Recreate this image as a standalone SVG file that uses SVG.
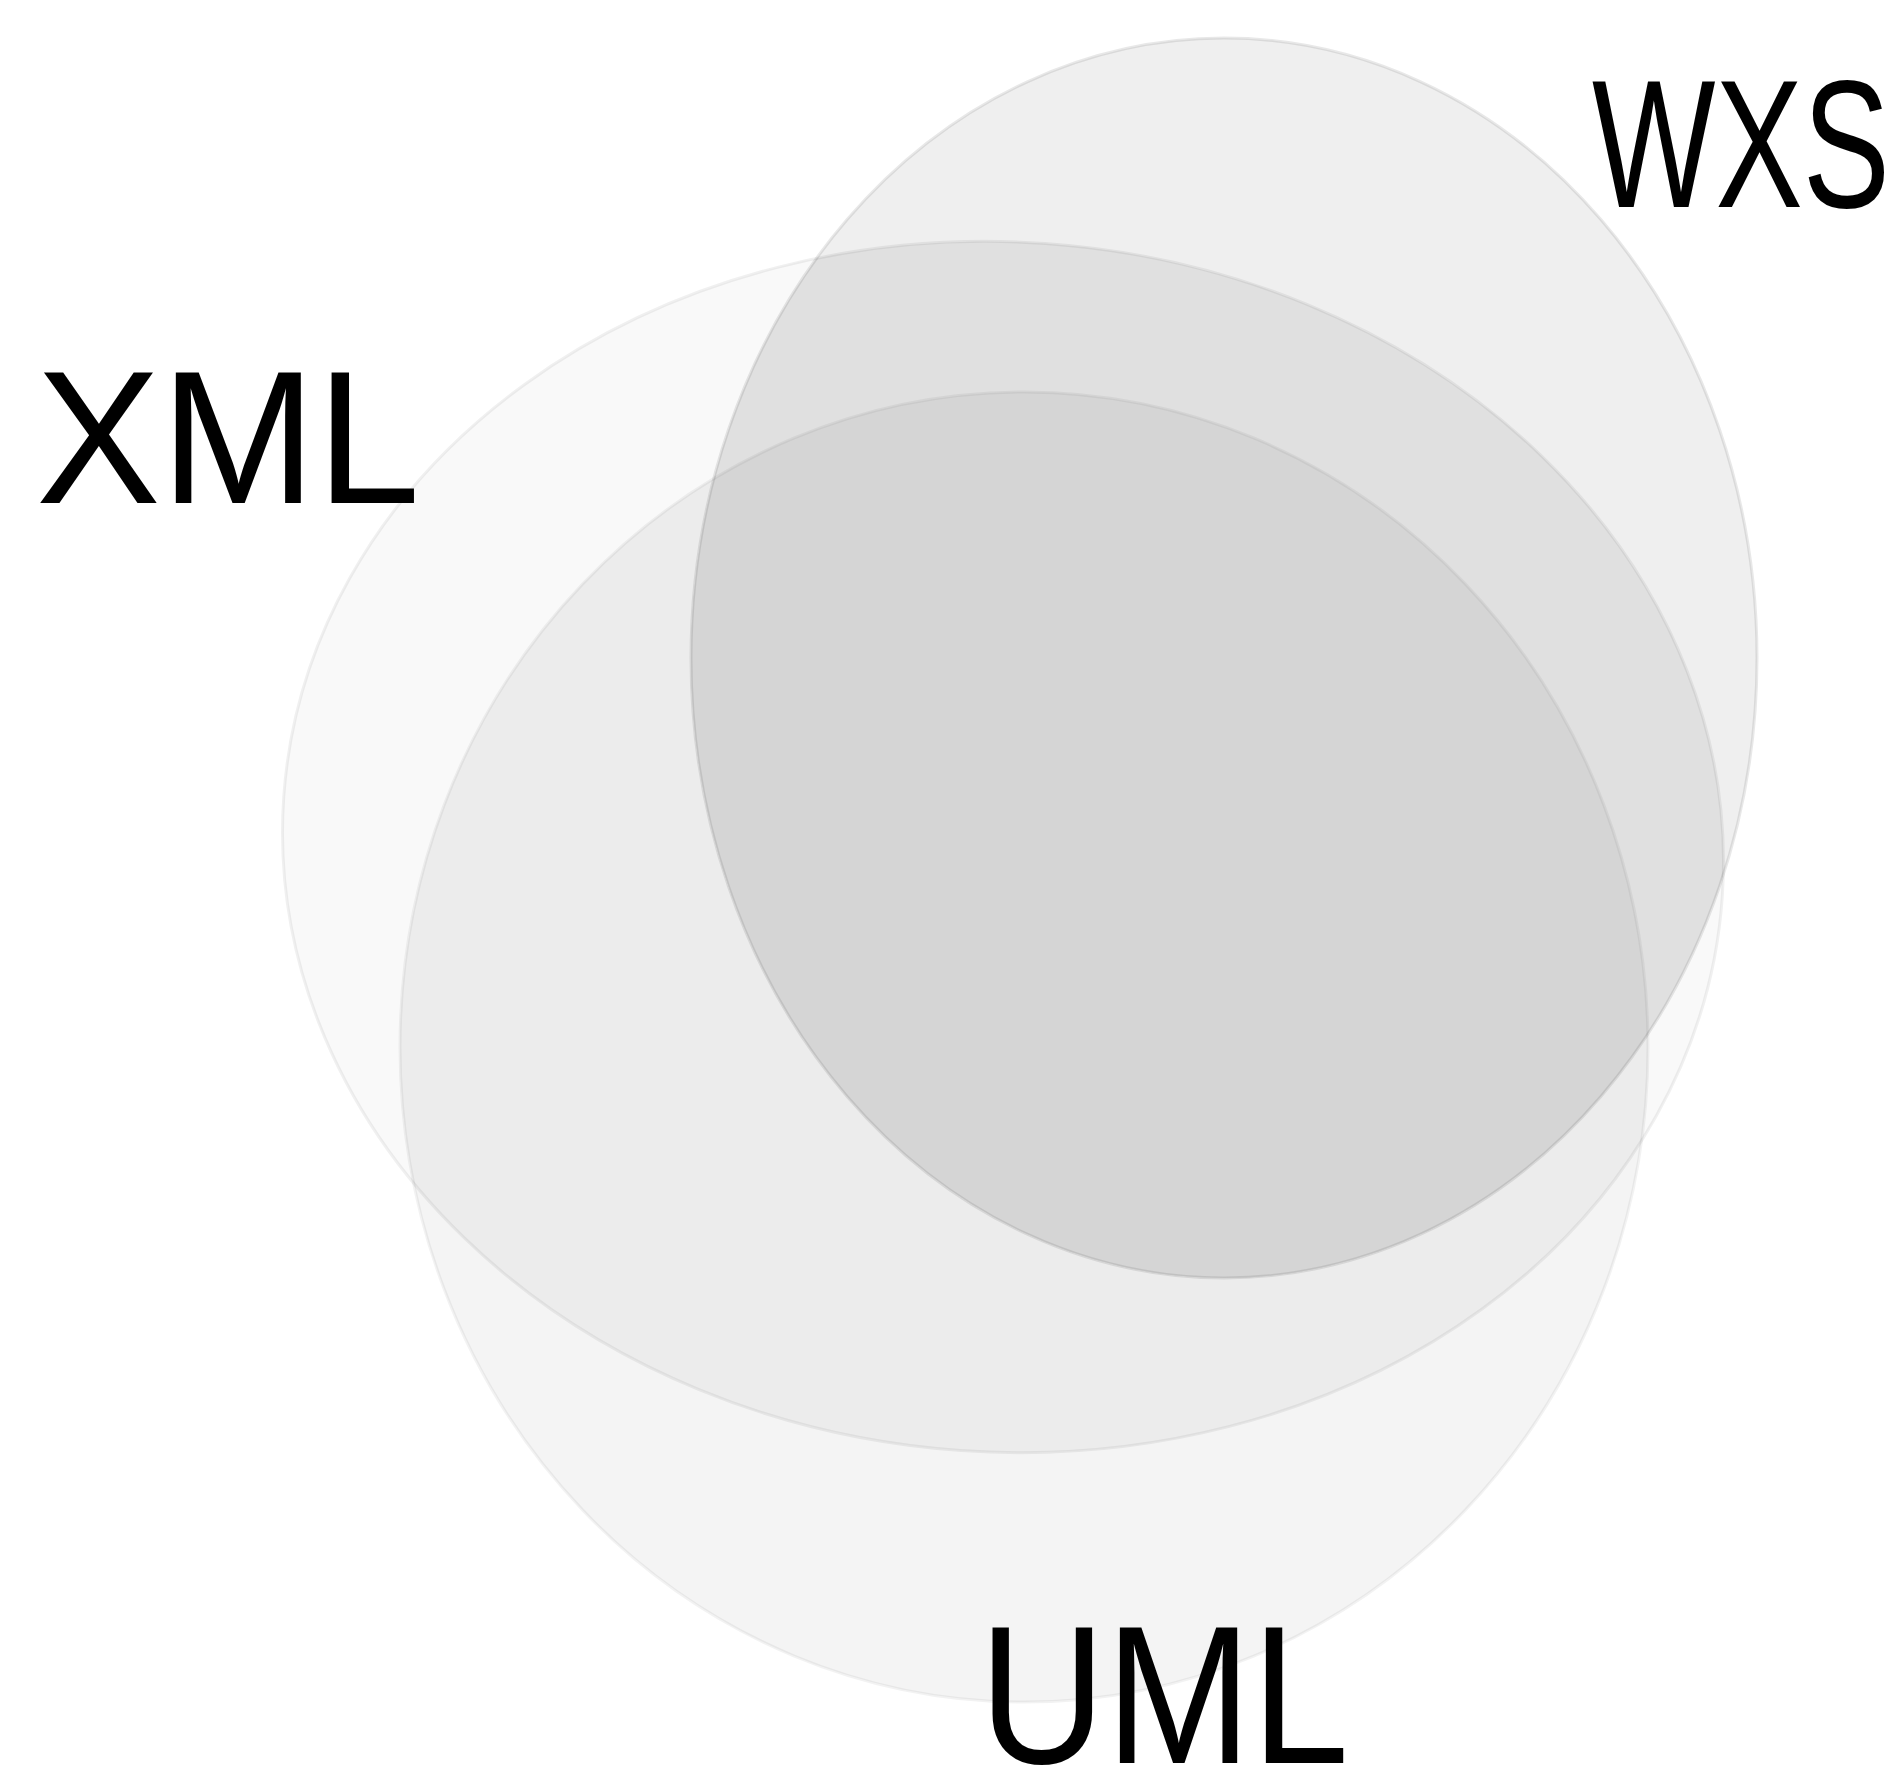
<svg xmlns="http://www.w3.org/2000/svg" width="1901" height="1767" viewBox="0 0 1901 1767">
<style>
.lbl{font-family:"Liberation Sans",Arial,Helvetica,sans-serif;fill:#000;}
.edge{fill:none;stroke-width:3;}
</style>
<defs>
<ellipse id="e-xml" cx="1003" cy="847" rx="721" ry="605" transform="rotate(4 1003 847)"/>
<ellipse id="e-uml" cx="1024" cy="1047" rx="624" ry="655"/>
<ellipse id="e-wxs" cx="1224" cy="658" rx="533" ry="620"/>
<clipPath id="c-xml"><use href="#e-xml"/></clipPath>
<clipPath id="c-uml"><use href="#e-uml"/></clipPath>
</defs>
<rect width="1901" height="1767" fill="#ffffff"/>
<g id="xml">
<use href="#e-xml" fill="#f9f9f9"/>
</g>
<g id="uml">
<use href="#e-uml" fill="#f4f4f4"/>
</g>
<g id="wxs">
<use href="#e-wxs" fill="#efefef"/>
</g>
<g id="overlaps">
<g clip-path="url(#c-xml)"><use href="#e-uml" fill="#ececec"/></g>
<g clip-path="url(#c-uml)"><use href="#e-wxs" fill="#e4e4e4"/></g>
<g clip-path="url(#c-xml)"><use href="#e-wxs" fill="#e0e0e0"/></g>
<g clip-path="url(#c-xml)"><g clip-path="url(#c-uml)"><use href="#e-wxs" fill="#d5d5d5"/></g></g>
</g>
<g id="connectors">
<use href="#e-xml" class="edge" stroke="rgba(0,0,0,0.06)"/>
<use href="#e-uml" class="edge" stroke="rgba(0,0,0,0.05)"/>
<use href="#e-wxs" class="edge" stroke="rgba(0,0,0,0.09)"/>
</g>
<g id="labels">
<text class="lbl" x="36" y="503" font-size="190" textLength="384" lengthAdjust="spacingAndGlyphs">XML</text>
<text class="lbl" x="1592" y="207" font-size="182" textLength="298" lengthAdjust="spacingAndGlyphs">WXS</text>
<text class="lbl" x="979" y="1763" font-size="196" textLength="370" lengthAdjust="spacingAndGlyphs">UML</text>
</g>
</svg>
